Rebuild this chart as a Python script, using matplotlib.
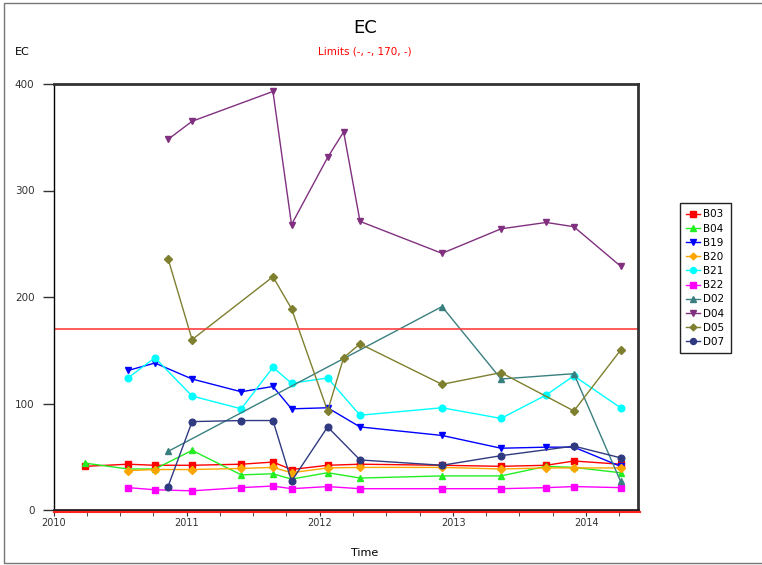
import matplotlib
matplotlib.use("Agg")
import matplotlib.pyplot as plt
import matplotlib.dates as mdates
from matplotlib.lines import Line2D
from matplotlib.patches import Rectangle
import pandas as pd

# sampling dates
b03_dates = ["2010-03-28", "2010-07-23", "2010-10-05", "2011-01-15", "2011-05-30", "2011-08-25",
             "2011-10-15", "2012-01-22", "2012-04-20", "2012-12-01", "2013-05-12", "2013-09-13",
             "2013-11-28", "2014-04-05"]
b_dates = b03_dates[1:]
d_dates = ["2010-11-10", "2011-01-15", "2011-08-25", "2011-10-15", "2012-01-22", "2012-03-06",
           "2012-04-20", "2012-12-01", "2013-05-12", "2013-09-13", "2013-11-28", "2014-04-05"]

b03 = [41, 43, 42, 42, 43, 45, 38, 42, 43, 42, 41, 42, 46, 43]
b04 = [44, 38.5, 38.5, 56, 33, 34, 29, 35, 30, 32, 32, 41, 40, 35]
b19 = [131, 138, 123, 111, 116, 95, 96, 78, 70, 58, 59, 59, 41]
b20 = [37, 38, 38, 39, 40, 35, 39.5, 40, 40, 38.5, 39.5, 39.5, 39.5]
b21 = [124, 143, 107, 95, 134, 119, 124, 89, 96, 86, 108, 126, 96]
b22 = [21, 19, 18, 21, 22.5, 20, 22, 20, 20, 20, 21, 22, 21]

d02_dates = ["2010-11-10", "2012-12-01", "2013-05-12", "2013-11-28", "2014-04-05"]
d02 = [55, 191, 123, 128, 27]
d04 = [348, 365, 393, 268, 331, 355, 271, 241, 264, 270, 266, 229]
d05_dates = ["2010-11-10", "2011-01-15", "2011-08-25", "2011-10-15", "2012-01-22", "2012-03-06",
             "2012-04-20", "2012-12-01", "2013-05-12", "2013-11-28", "2014-04-05"]
d05 = [236, 160, 219, 189, 93, 143, 156, 118, 129, 93, 150]
d07_dates = ["2010-11-10", "2011-01-15", "2011-05-30", "2011-08-25", "2011-10-15", "2012-01-22",
             "2012-04-20", "2012-12-01", "2013-05-12", "2013-11-28", "2014-04-05"]
d07 = [22, 83, 84, 84, 27, 78, 47, 42, 51, 60, 49]

limit_value = 170

series = [
    ("B03", b03_dates, b03, "#ff0000", "s"),
    ("B04", b03_dates, b04, "#22ee22", "^"),
    ("B19", b_dates, b19, "#0000ff", "v"),
    ("B20", b_dates, b20, "#ffa500", "D"),
    ("B21", b_dates, b21, "#00ffff", "o"),
    ("B22", b_dates, b22, "#ff00ff", "s"),
    ("D02", d02_dates, d02, "#3a7f80", "^"),
    ("D04", d_dates, d04, "#80307f", "v"),
    ("D05", d05_dates, d05, "#7f7f30", "D"),
    ("D07", d07_dates, d07, "#303a80", "o"),
]

fig = plt.figure(figsize=(7.62, 5.65), dpi=100)
left, right, bottom, top = 54 / 762, 638 / 762, 55 / 565, 481 / 565
ax = fig.add_axes([left, bottom, right - left, top - bottom])

for name, dates, vals, color, marker in series:
    ms = 3.8 if marker == "D" else 4.8
    ax.plot(pd.to_datetime(dates), vals, color=color, marker=marker, markersize=ms,
            linewidth=1, label=name)

ax.axhline(limit_value, color="#ff4040", linewidth=1.2)

ax.set_ylim(0, 400)
ax.set_xlim(pd.Timestamp("2010-01-01"), pd.Timestamp("2014-05-23"))
ax.set_yticks([0, 100, 200, 300, 400])
ax.xaxis.set_major_locator(mdates.YearLocator())
ax.xaxis.set_major_formatter(mdates.DateFormatter("%Y"))
ax.xaxis.set_minor_locator(mdates.MonthLocator(bymonth=[4, 7, 10]))
ax.tick_params(axis="y", direction="out", length=8, width=1, labelsize=7.5, colors="#333333",
               pad=6)
ax.tick_params(axis="x", which="major", direction="out", length=4, labelsize=7, colors="#333333",
               pad=2)
ax.tick_params(axis="x", which="minor", direction="out", length=4, colors="#333333")

ax.spines["top"].set_linewidth(2)
ax.spines["top"].set_color("#333333")
ax.spines["right"].set_linewidth(2)
ax.spines["right"].set_color("#333333")
ax.spines["bottom"].set_linewidth(2)
ax.spines["bottom"].set_color("#222222")
ax.spines["left"].set_linewidth(1)

# red line just under the bottom axis
fig.add_artist(Line2D([left, right + 0.002], [bottom - 0.004, bottom - 0.004],
                      color="#ff2020", linewidth=1.5))

fig.text(365 / 762, 1 - 28 / 565, "EC", ha="center", va="center", fontsize=13)
fig.text(365 / 762, 1 - 52 / 565, "Limits (-, -, 170, -)", ha="center", va="center",
         fontsize=7.5, color="#ff0000")
fig.text(22 / 762, 1 - 52 / 565, "EC", ha="center", va="center", fontsize=8)
fig.text(365 / 762, 1 - 553 / 565, "Time", ha="center", va="center", fontsize=8)

leg = fig.legend(loc="upper left", bbox_to_anchor=(675 / 762, 1 - 198 / 565), fontsize=7.5,
                 handlelength=1.3, handletextpad=0.3, labelspacing=0.4, borderpad=0.6,
                 fancybox=False, framealpha=1, edgecolor="#222222", markerscale=0.9)
leg.get_frame().set_linewidth(1)

# figure border
fig.add_artist(Rectangle((4 / 762, 2 / 565), 1.0, 1 - 5 / 565, fill=False,
                         edgecolor="#777777", linewidth=1, transform=fig.transFigure))

fig.savefig("out.png", dpi=100)
